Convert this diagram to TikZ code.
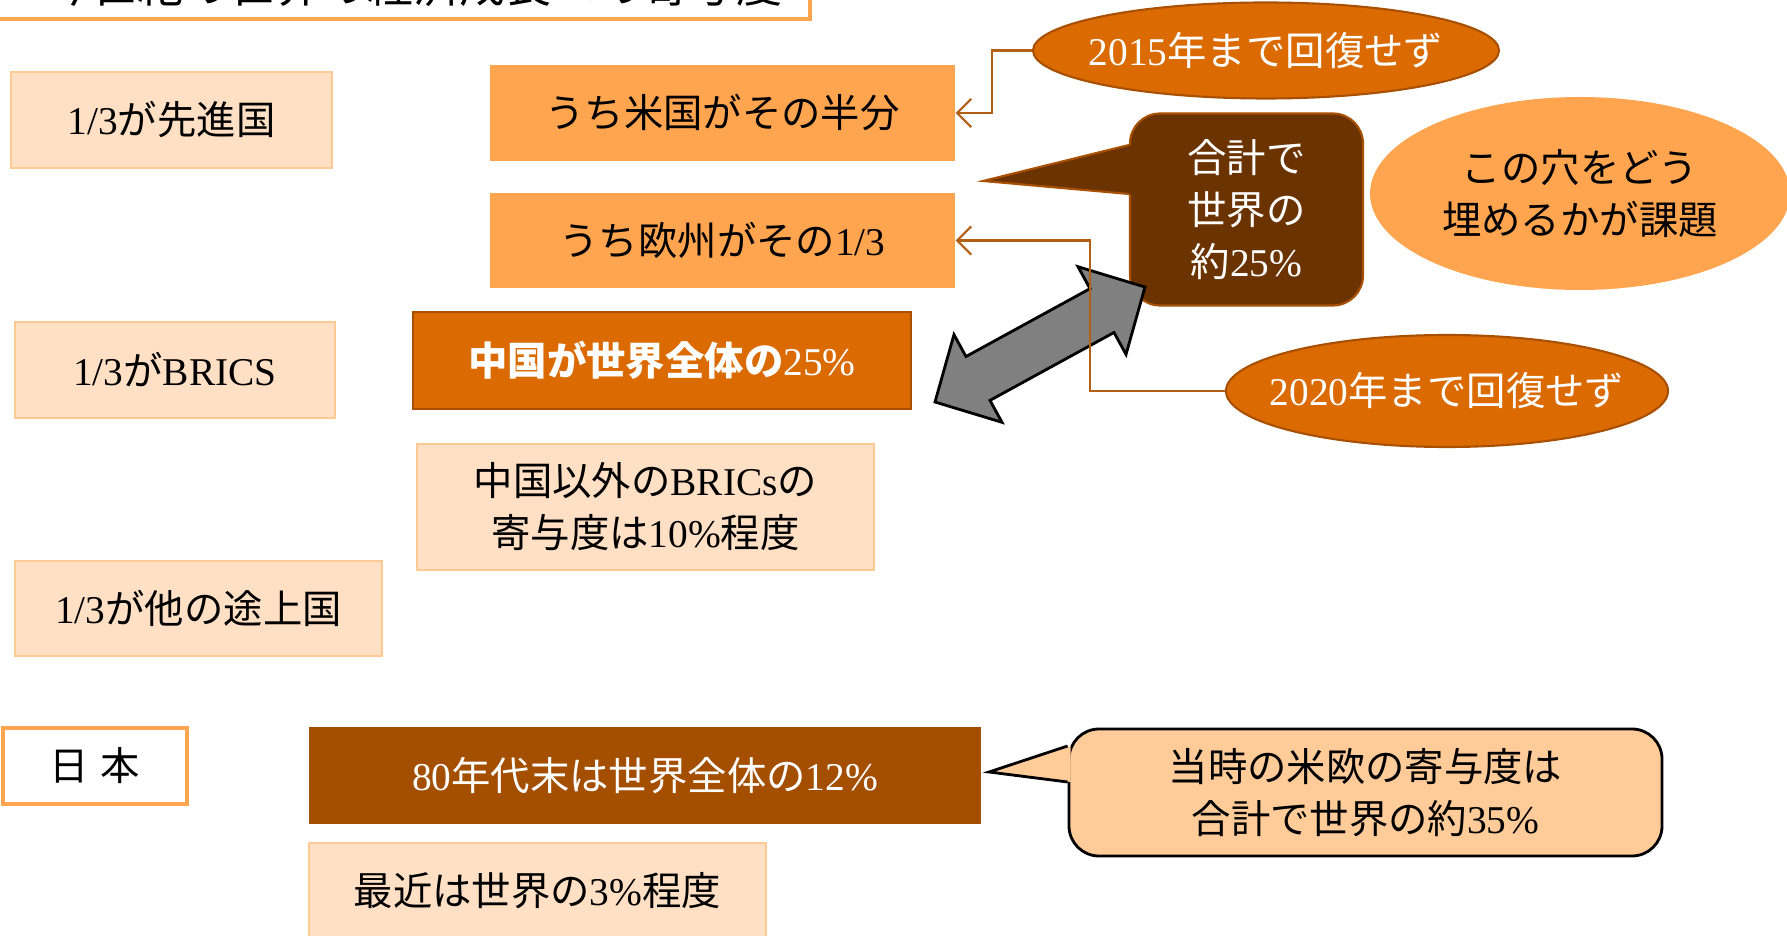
\documentclass[tikz,border=0pt]{standalone}
\usepackage{fontspec}
\setmainfont{Noto Sans CJK JP}
\newfontfamily\latinfont{Liberation Serif}
\newcommand\lat[1]{{\latinfont #1}}
\usetikzlibrary{shapes.geometric,arrows.meta}
\definecolor{peach}{HTML}{FFE0C4}
\definecolor{peachline}{HTML}{FFC994}
\definecolor{orangemid}{HTML}{FFA54F}
\definecolor{orangedark}{HTML}{DB6A00}
\definecolor{orangeline}{HTML}{A85000}
\definecolor{brownmid}{HTML}{A44F00}
\definecolor{browndark}{HTML}{6B3300}
\definecolor{callfill}{HTML}{FFCC99}
\definecolor{linkcol}{HTML}{B35F14}
\definecolor{arrowgray}{HTML}{808080}
\tikzset{
  box/.style={rectangle, inner sep=0pt, align=center, font=\fontsize{11.2}{14.8}\selectfont},
  pale/.style={box, fill=peach, draw=peachline, line width=0.6pt},
  mid/.style={box, fill=orangemid},
  deep/.style={box, fill=orangedark, draw=orangeline, line width=0.6pt, text=white},
  oval/.style={ellipse, inner sep=-0.3cm, align=center, font=\fontsize{11.2}{14.8}\selectfont},
  link/.style={draw=linkcol, line width=0.6pt, -{Straight Barb[length=4pt,width=8pt]}},
}
\begin{document}
\begin{tikzpicture}
\useasboundingbox (0,0) rectangle (17.87,-9.36);
\clip (0,0) rectangle (17.87,-9.36);
\node (title) [draw=orangemid, line width=1.1pt, fill=white, anchor=south east, inner xsep=0.28cm, inner ysep=0pt, text width=7.7cm, align=right, minimum height=0.68cm, font=\fontsize{13.1}{16}\selectfont] at (8.12,-0.21) {今世紀の世界の経済成長への寄与度};
\node (adv) [pale, minimum width=3.21cm, minimum height=0.96cm] at (1.715,-1.20) {\lat{1/3}が先進国};
\node (usa) [mid, minimum width=4.65cm, minimum height=0.96cm] at (7.225,-1.13) {うち米国がその半分};
\node (eu) [mid, minimum width=4.65cm, minimum height=0.95cm] at (7.225,-2.405) {うち欧州がその\lat{1/3}};
\node (brics) [pale, minimum width=3.20cm, minimum height=0.96cm] at (1.75,-3.70) {\lat{1/3}が\lat{BRICS}};
\node (china) [deep, minimum width=4.98cm, minimum height=0.97cm] at (6.62,-3.605) {{\bfseries 中国が世界全体の}\lat{25\%}};
\node (others) [pale, minimum width=4.57cm, minimum height=1.26cm] at (6.455,-5.07) {中国以外の\lat{BRICs}の\\寄与度は\lat{10\%}程度};
\node (devel) [pale, minimum width=3.67cm, minimum height=0.95cm] at (1.985,-6.085) {\lat{1/3}が他の途上国};
\node (japan) [box, draw=orangemid, line width=1.1pt, fill=white, minimum width=1.84cm, minimum height=0.76cm] at (0.95,-7.66) {日\hspace{0.3em}本};
\node (late80) [box, fill=brownmid, text=white, minimum width=6.72cm, minimum height=0.97cm] at (6.45,-7.755) {\lat{80}年代末は世界全体の\lat{12\%}};
\node (recent) [pale, minimum width=4.57cm, minimum height=0.96cm] at (5.375,-8.91) {最近は世界の\lat{3\%}程度};
\node (sum35) [box, fill=callfill, draw=black, line width=0.8pt, rounded corners=0.3cm, minimum width=5.93cm, minimum height=1.27cm] at (13.655,-7.925) {当時の米欧の寄与度は\\合計で世界の約\lat{35\%}};
\coordinate (tip35) at (9.89,-7.72);
\fill[callfill] ([yshift=0.465cm,xshift=0.03cm]sum35.west) -- (tip35) -- ([yshift=0.105cm,xshift=0.03cm]sum35.west) -- cycle;
\draw[line width=0.8pt] ([yshift=0.465cm]sum35.west) -- (tip35) -- ([yshift=0.105cm]sum35.west);
\node (sum25) [box, fill=browndark, draw=orangeline, line width=0.6pt, rounded corners=0.3cm, text=white, minimum width=2.33cm, minimum height=1.92cm] at (12.465,-2.095) {合計で\\世界の\\約\lat{25\%}};
\coordinate (tip25) at (9.83,-1.81);
\fill[browndark] ([yshift=0.645cm,xshift=0.03cm]sum25.west) -- (tip25) -- ([yshift=0.155cm,xshift=0.03cm]sum25.west) -- cycle;
\draw[orangeline, line width=0.6pt] ([yshift=0.645cm]sum25.west) -- (tip25) -- ([yshift=0.155cm]sum25.west);
\node (y2015) [oval, fill=orangedark, draw=orangeline, line width=0.6pt, text=white, minimum width=4.66cm, minimum height=0.96cm] at (12.66,-0.505) {\lat{2015}年まで回復せず};
\node (y2020) [oval, fill=orangedark, draw=orangeline, line width=0.6pt, text=white, minimum width=4.42cm, minimum height=1.12cm] at (14.47,-3.91) {\lat{2020}年まで回復せず};
\node (hole) [oval, fill=orangemid, minimum width=4.2cm, minimum height=1.93cm] at (15.80,-1.935) {この穴をどう\\埋めるかが課題};
\begin{scope}[shift={(9.35,-4.02)}, rotate=28.7]
\draw[fill=arrowgray, line width=0.8pt] (0,0) -- (0.49,0.5) -- (0.49,0.25) -- (1.904,0.25) -- (1.904,0.5) -- (2.394,0) -- (1.904,-0.5) -- (1.904,-0.25) -- (0.49,-0.25) -- (0.49,-0.5) -- cycle;
\end{scope}
\draw[link] (y2015.west) -- ++(-0.40,0) |- (usa.east);
\draw[link] (y2020.west) -- ++(-1.35,0) |- (eu.east);
\end{tikzpicture}
\end{document}
